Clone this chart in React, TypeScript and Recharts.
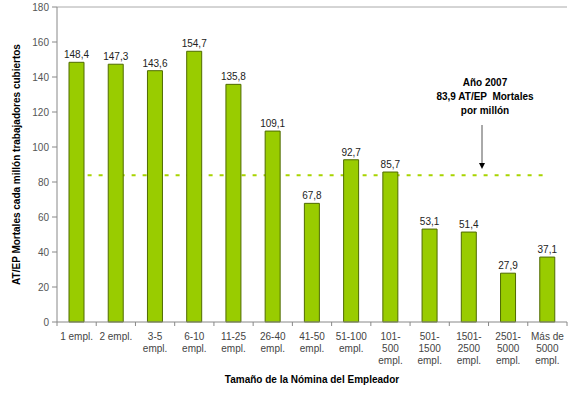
import React from 'react';
import { BarChart, Bar, XAxis, YAxis, ReferenceLine, LabelList, Label } from 'recharts';

const categories = [
  '1 empl.', '2 empl.', '3-5\nempl.', '6-10\nempl.', '11-25\nempl.', '26-40\nempl.', '41-50\nempl.',
  '51-100\nempl.', '101-\n500\nempl.', '501-\n1500\nempl.', '1501-\n2500\nempl.', '2501-\n5000\nempl.', 'Más de\n5000\nempl.',
];
const rates = [148.4, 147.3, 143.6, 154.7, 135.8, 109.1, 67.8, 92.7, 85.7, 53.1, 51.4, 27.9, 37.1];
const yTicks = [0, 20, 40, 60, 80, 100, 120, 140, 160, 180];
const average2007 = 83.9;
const noteLines = ['Año 2007', '83,9 AT/EP  Mortales', 'por millón'];

const W = 573;
const H = 393;
const LEFT = 57;
const RIGHT = 6;
const band = (W - LEFT - RIGHT) / categories.length;

const data = categories.map((c, i) => ({ name: c, value: rates[i] }));
const font = '"Liberation Sans", Arial, sans-serif';

const XTick = (props: any) => {
  const { x, y, payload, index } = props;
  const lines = String(payload.value).split('\n');
  const last = index === categories.length - 1;
  return (
    <g>
      <line x1={x - band / 2} x2={x - band / 2} y1={y} y2={y + 4} stroke="#888" />
      {last && <line x1={x + band / 2} x2={x + band / 2} y1={y} y2={y + 4} stroke="#888" />}
      <text x={x} y={y} textAnchor="middle" fontSize={10} fill="#444" fontFamily={font}>
        {lines.map((l, i) => (
          <tspan key={i} x={x} dy={i === 0 ? 18 : 12}>{l}</tspan>
        ))}
      </text>
    </g>
  );
};

export default function App() {
  return (
    <div style={{ position: 'absolute', left: 0, top: 0, width: W, height: H, background: '#fff' }}>
      <BarChart width={W} height={H} data={data} margin={{ top: 7, right: RIGHT, bottom: 0, left: 0 }} barCategoryGap={0}>
        <XAxis
          dataKey="name"
          height={71}
          interval={0}
          tickLine={false}
          tickSize={0}
          tickMargin={0}
          axisLine={{ stroke: '#888' }}
          tick={<XTick />}
        >
          <Label value="Tamaño de la Nómina del Empleador" position="insideBottom" offset={10}
            style={{ fontSize: 10, fontWeight: 'bold', fill: '#000', fontFamily: font }} />
        </XAxis>
        <YAxis
          width={LEFT}
          domain={[0, 180]}
          ticks={yTicks}
          interval={0}
          tickSize={5}
          tickMargin={3}
          axisLine={{ stroke: '#888' }}
          tickLine={{ stroke: '#888' }}
          tick={{ fontSize: 10, fill: '#555', fontFamily: font }}
        >
          <Label value="AT/EP Mortales cada millón trabajadores cubiertos" angle={-90} position="insideLeft" offset={16}
            style={{ fontSize: 10, fontWeight: 'bold', fill: '#000', textAnchor: 'middle', fontFamily: font }} />
        </YAxis>
        <YAxis yAxisId="frame" orientation="right" width={0} tick={false} tickLine={false} axisLine={{ stroke: '#aaa' }} domain={[0, 180]} />
        <ReferenceLine y={180} stroke="#aaa" />
        <ReferenceLine
          segment={[{ x: categories[0], y: average2007 }, { x: categories[categories.length - 1], y: average2007 }]}
          stroke="#a8d400"
          strokeWidth={2}
          strokeDasharray="4 7"
          zIndex={0}
        />
        <Bar dataKey="value" fill="#99cc00" stroke="#4f6b00" strokeWidth={1} barSize={15} isAnimationActive={false}>
          <LabelList
            dataKey="value"
            position="top"
            offset={4}
            formatter={(v: any) => Number(v).toFixed(1).replace('.', ',')}
            style={{ fontSize: 10, fill: '#222', fontFamily: font }}
          />
        </Bar>
      </BarChart>
      <svg width={W} height={H} style={{ position: 'absolute', left: 0, top: 0, pointerEvents: 'none' }}>
        {noteLines.map((t, i) => (
          <text key={i} x={485} y={86 + i * 14} textAnchor="middle" fontSize={10} fontWeight="bold"
            fontFamily={font} fill="#000" style={{ whiteSpace: 'pre' }}>{t}</text>
        ))}
        <line x1={482} y1={125} x2={482} y2={164} stroke="#555" strokeWidth={1} />
        <path d="M479,163 L485,163 L482,169 z" fill="#000" />
      </svg>
    </div>
  );
}
